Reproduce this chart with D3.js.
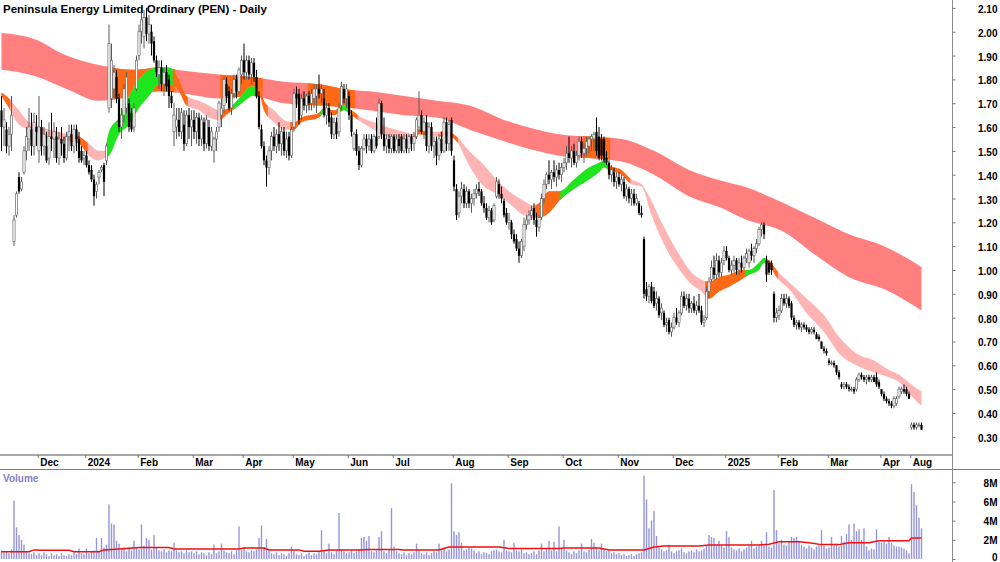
<!DOCTYPE html>
<html lang="en">
<head>
<meta charset="UTF-8">
<title>Peninsula Energy Limited Ordinary (PEN) - Daily</title>
<script src="https://d3js.org/d3.v7.min.js"></script>
<style>
  body { margin: 0; background: #fff; }
  svg { display: block; font-family: "Liberation Sans", Arial, sans-serif; }
</style>
</head>
<body>
<svg width="1000" height="562"></svg>
<script>
// daily bars, [open, high, low, close] in cents, Nov 2023 .. Aug 2025
const candles = [
  [167,173,150,160],[160,168,152,163],[159,162,149,152],[152,160,148,157],[157,173,150,165],
  [112,123,110,121],[123,133,122,132],[139,141,132,133],[134,139,133,137],[141,152,140,150],
  [150,160,146,156],[155,168,150,160],[159,166,148,152],[152,166,148,162],[160,165,152,158],
  [150,173,145,160],[160,163,148,152],[152,160,148,157],[152,158,145,146],[147,162,144,156],
  [156,166,150,155],[155,162,147,158],[156,160,145,147],[147,158,144,155],[155,160,148,153],
  [153,156,145,147],[147,158,146,156],[156,161,150,158],[157,161,150,152],[152,161,149,159],
  [159,161,150,155],[155,158,145,147],[150,152,145,146],[147,150,144,148],[148,150,143,144],
  [144,146,140,141],[142,144,137,138],[138,140,127,131],[133,137,130,136],[139,142,136,141],
  [142,144,141,143],[144,145,131,137],[146,153,144,152],[168,203,166,195],[172,195,168,188],
  [176,186,172,183],[181,184,170,172],[172,174,158,160],[160,168,155,165],[165,178,162,176],
  [168,183,166,181],[170,172,158,160],[166,168,158,159],[160,170,158,168],[176,190,175,188],
  [190,203,188,200],[200,210,195,205],[198,209,193,206],[206,210,196,199],[199,207,195,203],
  [200,203,190,195],[196,198,187,188],[188,190,181,183],[182,188,176,185],[185,188,175,178],
  [178,185,173,183],[183,186,175,177],[180,182,168,173],[173,175,168,170],[158,170,152,165],
  [160,168,155,163],[163,168,156,158],[158,168,155,166],[161,167,150,153],[153,167,152,165],
  [165,168,155,160],[160,167,152,163],[163,167,155,158],[158,166,153,164],[164,166,152,155],
  [155,165,152,163],[162,164,150,153],[153,165,151,163],[160,163,150,152],[152,160,150,158],
  [150,156,145,155],[155,160,150,158],[160,171,158,170],[165,172,160,168],[169,181,166,180],
  [178,181,170,173],[175,177,167,168],[168,176,165,174],[174,182,172,180],[180,182,172,175],
  [175,185,174,184],[182,190,178,188],[188,195,180,183],[183,190,180,188],[188,190,180,182],
  [182,189,178,187],[187,189,179,181],[181,184,172,173],[173,175,159,160],[159,161,151,152],
  [152,154,144,146],[146,148,135,143],[143,152,140,150],[150,158,146,156],[156,160,150,152],
  [152,159,149,157],[157,162,150,153],[153,160,148,158],[158,160,148,150],[150,158,147,155],
  [156,158,146,148],[148,160,147,159],[160,176,158,174],[174,177,168,172],[174,176,161,163],
  [165,174,163,172],[172,175,167,169],[169,174,166,173],[173,175,167,170],[170,176,167,174],
  [172,178,168,176],[173,178,166,176],[176,182,172,174],[174,178,170,176],[172,176,164,165],
  [165,170,161,168],[168,170,160,162],[164,166,155,157],[157,164,155,162],[162,164,155,157],
  [158,170,156,168],[169,179,167,177],[176,178,170,172],[172,178,168,176],[173,175,163,165],
  [165,167,156,158],[151,158,150,157],[157,159,148,150],[150,152,142,144],[144,152,143,151],
  [151,157,150,155],[155,157,149,152],[152,157,150,155],[155,157,149,150],[150,157,149,156],
  [156,164,151,152],[156,172,155,170],[170,171,155,157],[157,164,150,152],[152,157,149,155],
  [155,157,149,151],[151,157,149,156],[156,157,149,150],[150,157,149,155],[155,157,149,152],
  [156,157,149,150],[150,157,149,155],[155,157,149,151],[151,157,149,156],[156,157,150,153],
  [153,158,150,156],[156,164,155,163],[160,175,158,165],[165,167,157,158],[158,164,155,162],
  [162,165,150,152],[152,162,149,160],[160,162,150,152],[152,156,147,154],[154,156,144,148],
  [148,157,146,155],[155,158,149,150],[150,164,149,162],[162,164,150,153],[153,163,150,161],
  [163,164,148,150],[146,148,133,135],[134,136,121,123],[124,133,122,131],[131,137,128,134],
  [134,136,126,128],[128,135,126,133],[133,134,126,128],[128,132,124,130],[130,134,127,132],
  [132,136,130,134],[134,137,131,133],[133,134,127,128],[128,131,124,126],[126,128,121,122],
  [122,127,120,125],[125,126,119,120],[121,128,120,127],[131,139,130,137],[136,138,130,132],
  [132,135,128,130],[129,130,122,123],[124,126,119,120],[120,124,117,121],[120,121,113,115],
  [115,117,111,112],[113,115,108,109],[109,112,103,106],[106,113,105,112],[110,122,108,119],
  [119,123,117,121],[121,125,119,123],[123,127,121,125],[126,128,119,121],[121,124,114,118],
  [118,123,116,122],[122,132,121,130],[130,138,128,136],[136,141,134,140],[140,146,136,138],
  [138,142,134,141],[141,146,137,139],[139,144,135,142],[142,145,138,140],[140,145,137,143],
  [143,147,141,145],[145,152,142,149],[149,156,145,147],[147,152,143,150],[150,153,144,145],
  [145,150,143,148],[148,156,146,154],[154,156,147,149],[149,153,145,151],[151,156,148,154],
  [152,156,149,155],[155,157,150,156],[155,158,150,157],[158,164,148,150],[156,160,146,147],
  [155,157,146,148],[155,156,145,146],[147,150,144,145],[145,146,138,140],[140,144,137,142],
  [141,143,135,137],[137,141,134,139],[139,141,135,136],[136,140,133,138],[137,139,130,131],
  [131,136,129,134],[134,135,128,130],[130,134,127,132],[132,134,127,128],[128,132,127,130],
  [128,129,123,124],[124,127,122,123],[113,114,88,90],[92,95,87,89],[89,94,86,93],
  [93,95,86,87],[91,93,84,85],[86,91,83,88],[88,89,80,81],[82,86,79,84],
  [82,83,76,77],[77,80,74,78],[79,80,73,74],[74,78,72,76],[76,82,75,80],
  [80,84,77,78],[78,83,76,82],[82,91,81,89],[89,91,84,85],[85,90,83,88],
  [88,90,82,84],[84,87,82,86],[86,89,82,83],[83,87,81,85],[85,90,82,83],
  [83,85,77,78],[78,81,76,79],[80,93,79,91],[91,97,88,95],[96,104,95,101],
  [101,106,96,98],[98,107,96,104],[104,106,97,99],[99,105,97,103],[104,110,102,108],
  [108,110,104,105],[105,106,99,100],[100,104,98,102],[102,106,99,104],[104,105,98,100],
  [100,105,98,103],[103,106,99,101],[101,106,100,105],[105,109,103,107],[103,109,101,108],
  [108,111,104,106],[106,110,103,109],[109,113,107,111],[111,118,110,117],[117,120,114,119],
  [119,120,113,115],[104,106,95,98],[103,104,98,99],[103,104,98,100],[90,91,78,80],
  [80,84,78,82],[81,85,79,83],[83,90,82,88],[88,90,85,86],[86,90,84,88],
  [88,89,84,85],[86,87,79,80],[80,81,76,77],[77,79,75,78],[78,79,75,76],
  [76,78,74,77],[77,78,75,76],[76,77,74,75],[75,76,73,74],[74,76,73,75],
  [75,76,73,74],[73,74,71,71],[72,73,70,71],[70,70,67,67],[67,68,65,66],
  [66,67,64,65],[62,63,60,61],[61,62,60,61],[61,62,59,60],[60,60,56,57],
  [57,58,54,55],[52,53,50,51],[51,53,50,52],[52,53,50,51],[51,52,49,50],
  [50,51,49,50],[50,51,48,49],[50,55,49,54],[54,57,53,56],[56,57,54,55],
  [55,56,53,54],[54,56,52,55],[55,56,53,54],[54,56,53,55],[55,56,53,53],
  [55,57,51,52],[53,54,50,51],[50,50,47,48],[48,49,45,46],[46,47,44,45],
  [45,46,43,44],[44,45,42,43],[43,47,42,46],[44,47,43,46],[47,51,46,50],
  [49,51,48,50],[50,52,48,49],[50,51,47,48],[48,49,46,46],[34,36,33,35],
  [35,36,33,34],[34,36,33,35],[35,36,34,35],[35,36,33,33]
];

// daily volume, units of 100k shares
const volumes = [
  9,7,8,6,10,61,33,25,20,15,8,6,5,7,4,
  6,4,7,5,3,6,4,5,3,6,4,3,5,4,7,5,11,6,5,
  11,6,8,9,22,8,22,12,15,57,37,36,19,16,10,12,8,11,9,19,12,
  10,36,14,22,20,10,25,12,9,8,10,7,9,8,17,9,7,8,6,9,7,8,
  6,8,5,7,6,4,7,5,15,6,8,16,9,7,6,8,5,9,34,10,
  12,8,7,9,8,10,22,35,12,21,9,6,5,7,4,6,5,3,6,13,
  8,5,4,6,3,5,7,4,6,5,8,30,9,6,16,7,5,9,48,10,8,6,
  7,9,6,8,10,22,23,19,24,8,7,9,23,29,8,6,10,53,
  13,8,6,5,7,4,6,5,7,16,9,6,5,7,4,6,8,7,16,9,12,8,10,79,
  29,25,28,17,9,10,12,11,9,6,8,5,7,6,5,8,9,10,8,7,20,9,
  8,7,17,9,8,10,6,7,5,6,8,5,9,16,8,10,19,9,18,8,34,11,
  20,9,7,5,8,6,9,16,8,7,10,21,17,12,9,16,10,8,9,6,7,5,
  6,4,5,3,4,5,3,5,6,7,87,62,32,40,50,24,12,10,8,9,15,8,
  6,8,9,11,7,6,8,9,7,10,8,9,11,14,25,23,22,15,19,14,12,
  29,23,12,10,9,11,8,10,12,14,19,11,13,15,19,14,28,13,12,72,30,
  16,20,15,14,18,23,22,23,19,15,13,11,14,12,10,13,15,30,14,11,
  12,23,14,16,13,24,18,26,36,20,37,29,31,20,32,13,9,11,10,31,18,
  17,18,16,23,17,14,13,13,12,11,9,6,
  78,70,56,43,32
];

// volume average line: [bar, millions]
const volAvg = [
  [0,0.75],[11,0.75],[13,0.95],[17,0.9],[27,0.9],[29,0.75],[39,0.75],[41,0.95],[47,1.05],
  [55,1.2],[67,1.2],[69,1.05],[95,1.05],[97,1.15],[105,1.15],[107,0.95],[119,0.95],[121,0.8],
  [127,0.8],[131,0.95],[143,0.95],[147,1.0],[159,1.0],[161,0.95],[175,0.95],[179,1.25],
  [199,1.25],[203,1.1],[223,1.1],[225,1.15],[239,1.15],[243,0.95],[257,0.95],[261,1.25],
  [265,1.35],[279,1.35],[283,1.45],[303,1.45],[307,1.55],[311,1.8],[319,1.8],[323,1.7],
  [328,1.5],[335,1.5],[339,1.7],[347,1.7],[351,1.9],[363,1.9],[364,2.2],[368,2.2]
];

// long-term moving average ribbon edges: [bar, edge A, edge B]
const longBand = [
  [0,1.995,1.84],[13,1.97,1.815],[26,1.90,1.76],[39,1.86,1.71],[53,1.84,1.73],[63,1.85,1.75],
  [73,1.836,1.74],[87,1.82,1.72],[100,1.81,1.73],[113,1.79,1.70],[127,1.78,1.69],
  [140,1.755,1.68],[147,1.75,1.67],[161,1.73,1.65],[174,1.71,1.64],[187,1.69,1.59],
  [201,1.63,1.54],[214,1.59,1.50],[223,1.57,1.48],[235,1.56,1.47],[248,1.55,1.455],
  [261,1.50,1.40],[275,1.42,1.31],[288,1.375,1.26],[297,1.35,1.215],[313,1.28,1.16],
  [326,1.215,1.06],[339,1.15,0.97],[353,1.10,0.92],[368,1.013,0.83]
];

// short-term moving average ribbon edges
const shortBand = [
  [0,1.745,1.73],[3,1.72,1.68],[7,1.67,1.61],[11,1.62,1.59],[19,1.59,1.55],[27,1.57,1.54],
  [31,1.56,1.53],[35,1.53,1.48],[39,1.50,1.46],[41,1.50,1.47],[43,1.58,1.48],[47,1.64,1.57],
  [51,1.73,1.61],[55,1.80,1.68],[59,1.84,1.73],[63,1.85,1.78],[67,1.85,1.78],[71,1.80,1.75],
  [74,1.73,1.69],[79,1.71,1.67],[83,1.69,1.64],[87,1.67,1.63],[91,1.68,1.66],[95,1.72,1.69],
  [100,1.77,1.73],[103,1.77,1.74],[105,1.71,1.67],[109,1.67,1.62],[113,1.63,1.59],
  [117,1.62,1.59],[120,1.64,1.62],[127,1.66,1.64],[129,1.68,1.66],[133,1.67,1.65],
  [137,1.69,1.67],[140,1.67,1.65],[144,1.64,1.62],[149,1.62,1.59],[154,1.60,1.56],
  [161,1.58,1.55],[165,1.57,1.55],[167,1.59,1.57],[174,1.58,1.56],[179,1.58,1.56],
  [182,1.56,1.54],[187,1.50,1.44],[193,1.44,1.35],[198,1.38,1.32],[203,1.33,1.28],
  [209,1.29,1.23],[213,1.27,1.22],[215,1.28,1.22],[219,1.33,1.24],[223,1.33,1.29],
  [229,1.38,1.34],[235,1.43,1.38],[239,1.45,1.41],[241,1.46,1.43],[243,1.44,1.42],
  [248,1.42,1.40],[252,1.38,1.36],[256,1.36,1.35],[260,1.29,1.23],[264,1.20,1.13],
  [268,1.12,1.05],[272,1.05,0.99],[276,0.99,0.94],[280,0.96,0.91],[283,0.95,0.88],
  [287,0.97,0.91],[291,0.98,0.93],[296,1.00,0.96],[299,1.00,0.98],[303,1.03,1.00],
  [305,1.05,1.03],[307,1.04,1.02],[310,1.00,0.97],[315,0.95,0.92],[322,0.88,0.82],
  [329,0.81,0.74],[335,0.72,0.65],[342,0.65,0.60],[349,0.62,0.57],[355,0.58,0.55],
  [359,0.56,0.53],[365,0.51,0.46],[368,0.49,0.43]
];

// ribbon colour changes: [from bar, to bar, state]
const longSegments = [[43,69,"mixed"],[88,104,"mixed"],[123,141,"mixed"],[233,243,"mixed"]];
const shortSegments = [
  [0,3,"mixed"],[28,34,"mixed"],[42,69,"up"],[69,74,"mixed"],[87,93,"mixed"],[93,103,"up"],
  [103,106,"mixed"],[116,128,"mixed"],[128,131,"up"],[131,136,"mixed"],[136,140,"up"],
  [140,142,"mixed"],[166,170,"mixed"],[176,182,"mixed"],[214,224,"mixed"],[224,243,"up"],
  [243,251,"mixed"],[282,298,"mixed"],[298,306,"up"],[306,310,"mixed"]
];

const monthTicks = [
  {label:"Dec", bar:15},{label:"2024", bar:34},{label:"Feb", bar:55},{label:"Mar", bar:77},
  {label:"Apr", bar:97},{label:"May", bar:117},{label:"Jun", bar:139},{label:"Jul", bar:157},
  {label:"Aug", bar:181},{label:"Sep", bar:203},{label:"Oct", bar:225},{label:"Nov", bar:247},
  {label:"Dec", bar:269},{label:"2025", bar:290},{label:"Feb", bar:311},{label:"Mar", bar:331},
  {label:"Apr", bar:352},{label:"Aug", bar:364}
];
const priceTicks = [0.3,0.4,0.5,0.6,0.7,0.8,0.9,1.0,1.1,1.2,1.3,1.4,1.5,1.6,1.7,1.8,1.9,2.0,2.1];
const volTicks = [0, 2e6, 4e6, 6e6, 8e6];

const colors = {
  longBase: "#ff7f7f", shortBase: "#ffb4b4", mixed: "#ff6814", up: "#1ee61e",
  volume: "#9595dc", volAvg: "#f01010"
};

const svg = d3.select("svg");
const axisX = 952;
const priceBottom = 455, volTop = 469;

const x = d3.scaleLinear().domain([0, candles.length - 1]).range([1.5, 1.5 + 2.5 * (candles.length - 1)]);
const y = d3.scaleLinear().domain([0.30, 2.10]).range([436.8, 7.9]);
const yv = d3.scaleLinear().domain([0, 8e6]).range([559, 482.3]);
const half = 1.25;

const defs = svg.append("defs");
defs.append("clipPath").attr("id", "pricePanel")
  .append("rect").attr("x", 0).attr("y", 0).attr("width", axisX).attr("height", priceBottom);

// ribbons
function drawBand(band, segments, base, name) {
  const area = d3.area()
      .x(d => x(d[0]))
      .y0(d => y(d[2]))
      .y1(d => y(d[1]))
      .curve(d3.curveMonotoneX);
  const g = svg.append("g").attr("clip-path", "url(#pricePanel)");
  g.append("path").attr("d", area(band)).attr("fill", base);
  segments.forEach((s, k) => {
    const id = `${name}-${k}`;
    defs.append("clipPath").attr("id", id)
      .append("rect")
        .attr("x", x(s[0]) - half).attr("y", 0)
        .attr("width", x(s[1]) - x(s[0]) + 2 * half).attr("height", priceBottom);
    g.append("path").attr("d", area(band))
      .attr("fill", colors[s[2]])
      .attr("clip-path", `url(#${id})`);
  });
}
drawBand(longBand, longSegments, colors.longBase, "lb");
drawBand(shortBand, shortSegments, colors.shortBase, "sb");

// candles
const bars = candles.map((c, i) => ({i, o: c[0] / 100, h: c[1] / 100, l: c[2] / 100, c: c[3] / 100}));
const cg = svg.append("g").attr("clip-path", "url(#pricePanel)");
cg.selectAll("line")
  .data(bars)
  .join("line")
    .attr("x1", d => x(d.i)).attr("x2", d => x(d.i))
    .attr("y1", d => y(d.h)).attr("y2", d => y(d.l))
    .attr("stroke", d => d.c >= d.o ? "#5a5a5a" : "#000")
    .attr("stroke-width", 1);
cg.selectAll("rect")
  .data(bars)
  .join("rect")
    .attr("x", d => x(d.i) - 1.1)
    .attr("width", 2.2)
    .attr("y", d => y(Math.max(d.o, d.c)))
    .attr("height", d => Math.max(0.8, Math.abs(y(d.o) - y(d.c))))
    .attr("fill", d => d.c >= d.o ? "#fff" : "#000")
    .attr("stroke", d => d.c >= d.o ? "#6a6a6a" : "none")
    .attr("stroke-width", 0.7);

// volume
const vg = svg.append("g");
vg.selectAll("rect")
  .data(volumes)
  .join("rect")
    .attr("x", (d, i) => x(i) - 0.7)
    .attr("width", 1.4)
    .attr("y", d => yv(d * 1e5))
    .attr("height", d => yv(0) - yv(d * 1e5))
    .attr("fill", colors.volume);

svg.append("path")
  .attr("d", d3.line().x(d => x(d[0])).y(d => yv(d[1] * 1e6))(volAvg))
  .attr("fill", "none")
  .attr("stroke", colors.volAvg)
  .attr("stroke-width", 1.5);

// frame lines
svg.append("line").attr("x1", 0).attr("x2", axisX).attr("y1", priceBottom).attr("y2", priceBottom)
  .attr("stroke", "#a8a8a8").attr("stroke-width", 2);
svg.append("line").attr("x1", 0).attr("x2", 1000).attr("y1", volTop + 0.5).attr("y2", volTop + 0.5)
  .attr("stroke", "#808080").attr("stroke-width", 1);
svg.append("line").attr("x1", axisX + 0.5).attr("x2", axisX + 0.5).attr("y1", 0).attr("y2", 562)
  .attr("stroke", "#8c8c8c").attr("stroke-width", 1);

// axes
function styleAxis(g) {
  g.attr("font-family", "'Liberation Sans', Arial, sans-serif")
   .attr("font-size", 10).attr("font-weight", "bold");
  g.select(".domain").remove();
  g.selectAll(".tick line").attr("stroke", "#777");
  g.selectAll("text").attr("fill", "#000");
}

const gp = svg.append("g")
  .attr("transform", `translate(${axisX + 0.5},0)`)
  .call(d3.axisRight(y).tickValues(priceTicks).tickFormat(d3.format(".2f")).tickSize(3))
  .call(styleAxis);
gp.selectAll("text").attr("x", 45).attr("text-anchor", "end").attr("dy", "0.45em");

const gv = svg.append("g")
  .attr("transform", `translate(${axisX + 0.5},0)`)
  .call(d3.axisRight(yv).tickValues(volTicks).tickFormat(d => d === 0 ? "0" : d / 1e6 + "M").tickSize(3))
  .call(styleAxis);
gv.selectAll("text").attr("x", 45).attr("text-anchor", "end")
  .attr("dy", d => d === 0 ? "0.1em" : "0.4em");

const gm = svg.append("g")
  .attr("transform", `translate(0,${priceBottom})`)
  .call(d3.axisBottom(x)
    .tickValues(monthTicks.map(m => m.bar - 0.5))
    .tickFormat((d, i) => monthTicks[i].label)
    .tickSize(3))
  .call(styleAxis);
gm.selectAll("text").attr("text-anchor", "start").attr("x", 2).attr("y", 3).attr("dy", "0.75em");

// labels
svg.append("text")
  .attr("x", 3).attr("y", 12.5)
  .attr("font-size", 11.5).attr("font-weight", "bold").attr("fill", "#000")
  .text("Peninsula Energy Limited Ordinary (PEN) - Daily");

svg.append("text")
  .attr("x", 3).attr("y", 482)
  .attr("font-size", 10).attr("font-weight", "bold").attr("fill", "#8282c4")
  .text("Volume");
</script>
</body>
</html>
